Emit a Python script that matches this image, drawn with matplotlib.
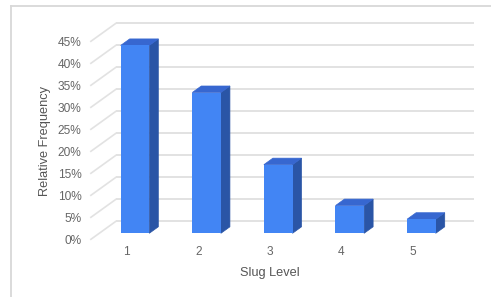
import matplotlib
matplotlib.use("Agg")
import matplotlib.pyplot as plt
from matplotlib.patches import Polygon
from matplotlib.lines import Line2D

# ---- data ----
levels = [1, 2, 3, 4, 5]
level_labels = ["1", "2", "3", "4", "5"]
rel_freq = [42.7, 32.0, 15.6, 6.3, 3.2]          # percent
y_ticks = [0, 5, 10, 15, 20, 25, 30, 35, 40, 45]
x_title = "Slug Level"
y_title = "Relative Frequency"

# ---- style ----
W, H, DPI = 491, 297, 100
FRONT_C = "#4285F4"
TOP_C = "#3767D0"
SIDE_C = "#2A55A6"
GRID_C = "#e2e2e2"
TXT_C = "#666666"
FONT = "Liberation Sans"

BACK_PX = (16.7, 12.0)     # px offset of back (grid) plane
DEPTH_PX = (9.0, 6.5)      # px bar depth
FRONT_PX = (-8.3, -6.0)    # px offset of front (label) plane
BAR_W = 0.4
XLIM = (0.5, 5.5)
YLIM = (0, 45)

plt.rcParams["font.family"] = [FONT, "DejaVu Sans"]
fig = plt.figure(figsize=(W / DPI, H / DPI), dpi=DPI)
pos = [99.2 / W, (H - 233.3) / H, 358 / W, (233.3 - 35.3) / H]
ax = fig.add_axes(pos)
ax.set_xlim(*XLIM)
ax.set_ylim(*YLIM)
ax.axis("off")

# pixel -> data unit conversion (from the axes box and limits)
sx = (XLIM[1] - XLIM[0]) / (pos[2] * W)
sy = (YLIM[1] - YLIM[0]) / (pos[3] * H)


def d(off):
    return off[0] * sx, off[1] * sy


bx, by = d(BACK_PX)
ddx, ddy = d(DEPTH_PX)
fx, fy = d(FRONT_PX)

# back-plane gridlines + left wall diagonals + y labels
for yv in y_ticks:
    ax.plot([XLIM[0] + bx, XLIM[1] + bx], [yv + by, yv + by], color=GRID_C, lw=1.4,
            solid_capstyle="butt", zorder=1, clip_on=False)
    ax.plot([XLIM[0] + fx, XLIM[0] + bx], [yv + fy, yv + by], color=GRID_C, lw=1.2,
            zorder=1, clip_on=False)
    lx, ly = d((FRONT_PX[0] - 9.5, FRONT_PX[1] - 1.5))
    ax.text(XLIM[0] + lx, yv + ly, f"{yv}%", ha="right", va="center", fontsize=8.6,
            color=TXT_C, clip_on=False)

# bars: side + top faces as polygons, front face with ax.bar
for xv, v in zip(levels, rel_freq):
    x0, x1 = xv - BAR_W / 2, xv + BAR_W / 2
    side = Polygon([(x1, 0), (x1 + ddx, ddy), (x1 + ddx, v + ddy), (x1, v)],
                   closed=True, facecolor=SIDE_C, edgecolor=SIDE_C, lw=0.5,
                   zorder=3, clip_on=False)
    top = Polygon([(x0, v), (x1, v), (x1 + ddx, v + ddy), (x0 + ddx, v + ddy)],
                  closed=True, facecolor=TOP_C, edgecolor=TOP_C, lw=0.5,
                  zorder=3, clip_on=False)
    ax.add_patch(side)
    ax.add_patch(top)

ax.bar(levels, rel_freq, width=BAR_W, color=FRONT_C, zorder=4, clip_on=False)

# x tick labels on front plane
tx, ty = d((FRONT_PX[0], FRONT_PX[1] - 12.5))
for xv, lab in zip(levels, level_labels):
    ax.text(xv + tx, ty, lab, ha="center", va="center", fontsize=8.6, color=TXT_C,
            clip_on=False)

ax.set_xlim(*XLIM)
ax.set_ylim(*YLIM)

fig.text(270 / W, 1 - 273 / H, x_title, ha="center", va="center", fontsize=9.2, color="#555555")
fig.text(45 / W, 1 - 141 / H, y_title, ha="center", va="center", rotation=90,
         fontsize=9.2, color="#555555")

# outer frame (left + top)
fig.add_artist(Line2D([11 / W, 11 / W], [0, 1 - 6 / H], transform=fig.transFigure,
                      color="#d8d8d8", lw=1.3))
fig.add_artist(Line2D([11 / W, 1], [1 - 6 / H, 1 - 6 / H], transform=fig.transFigure,
                      color="#d8d8d8", lw=1.3))

fig.savefig("out.png", dpi=DPI, facecolor="white")
